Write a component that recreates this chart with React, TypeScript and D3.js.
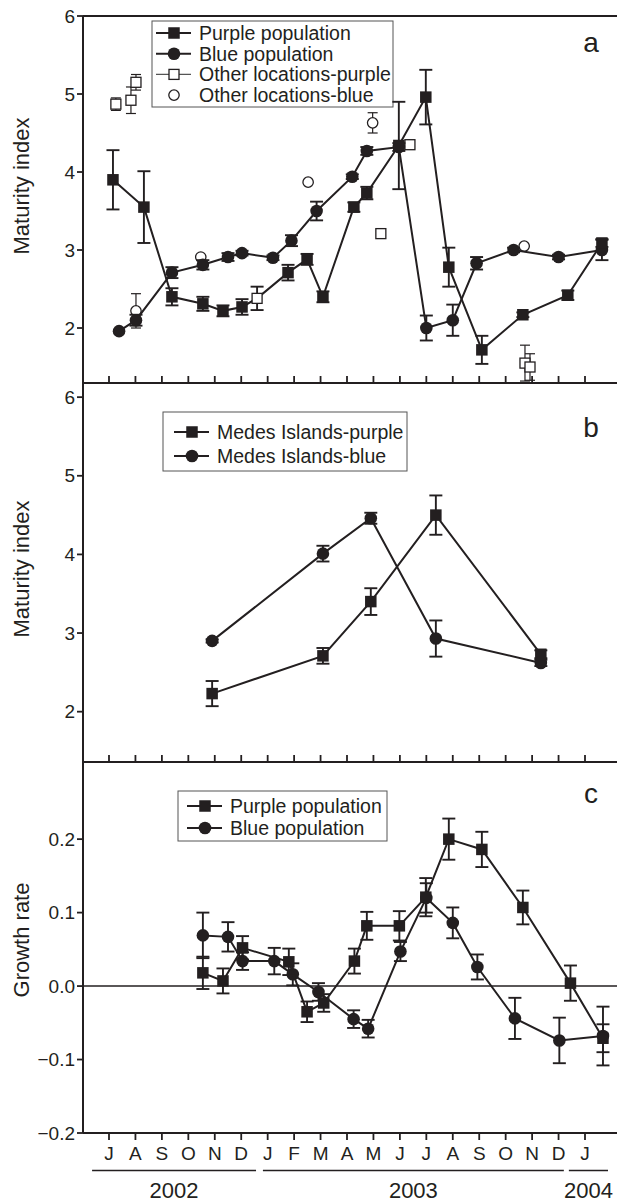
import * as d3 from 'd3';

const INK = '#231f20';
const FONT = '"Liberation Sans", Arial, Helvetica, sans-serif';

// x is a month index: 0 = July 2002 ... 18 = January 2004
const monthLabels = ['J', 'A', 'S', 'O', 'N', 'D', 'J', 'F', 'M', 'A', 'M', 'J', 'J', 'A', 'S', 'O', 'N', 'D', 'J'];
const yearLabels = ['2002', '2003', '2004'];
const yearSpans = [[-0.64, 5.56], [5.82, 17.2], [17.39, 18.87]];

// panel a: [month, maturity index, s.e., open marker (sample from other location)]
const purplePop = [
  [0.15, 3.9, 0.38], [1.32, 3.55, 0.46], [2.38, 2.4, 0.11], [3.55, 2.31, 0.09],
  [4.31, 2.22, 0.07], [5.03, 2.27, 0.1], [5.6, 2.38, 0.15, 1], [6.77, 2.71, 0.1],
  [7.49, 2.88, 0.07], [8.09, 2.4, 0.07], [9.26, 3.55, 0.06], [9.75, 3.73, 0.08],
  [10.96, 4.34, 0.56], [11.98, 4.96, 0.35], [12.85, 2.78, 0.25], [14.1, 1.72, 0.18],
  [15.65, 2.17, 0.03], [17.35, 2.42, 0.06], [18.64, 3.09, 0.05],
];
const bluePop = [
  [0.38, 1.96, 0], [1.02, 2.1, 0.07], [2.38, 2.71, 0.07], [3.55, 2.81, 0.06],
  [4.5, 2.91, 0.05], [5.03, 2.96, 0.03], [6.2, 2.9, 0.03], [6.9, 3.12, 0.07],
  [7.85, 3.5, 0.12], [9.2, 3.94, 0.03], [9.75, 4.27, 0.05], [10.96, 4.32, 0.05],
  [12.0, 2.0, 0.16], [13.0, 2.1, 0.2], [13.9, 2.83, 0.08], [15.3, 3.0, 0.03],
  [17.0, 2.91, 0.03], [18.64, 3.0, 0.13],
];
const otherPurple = [
  [0.26, 4.87, 0.08], [0.83, 4.92, 0.17], [1.02, 5.15, 0.1], [10.28, 3.21, 0],
  [11.38, 4.35, 0.05], [15.73, 1.55, 0.23], [15.92, 1.5, 0.17],
];
const otherBlue = [
  [1.02, 2.22, 0.22], [3.47, 2.91, 0], [7.53, 3.87, 0], [9.97, 4.63, 0.13], [15.7, 3.05, 0],
];

// panel b: Medes Islands
const medesPurple = [
  [3.9, 2.23, 0.16], [8.09, 2.71, 0.1], [9.9, 3.4, 0.17], [12.36, 4.5, 0.25], [16.33, 2.73, 0.05],
];
const medesBlue = [
  [3.9, 2.9, 0.02], [8.09, 4.01, 0.1], [9.9, 4.46, 0.07], [12.36, 2.93, 0.23], [16.33, 2.62, 0.04],
];

// panel c: growth rate
const purpleGrowth = [
  [3.55, 0.018, 0.022], [4.31, 0.007, 0.017], [5.05, 0.052, 0.016], [6.8, 0.033, 0.018],
  [7.49, -0.035, 0.014], [8.12, -0.023, 0.012], [9.28, 0.034, 0.017], [9.75, 0.082, 0.019],
  [10.98, 0.082, 0.02], [11.98, 0.121, 0.026], [12.85, 0.2, 0.028], [14.1, 0.186, 0.024],
  [15.65, 0.107, 0.023], [17.45, 0.004, 0.024], [18.68, -0.071, 0.019],
];
const blueGrowth = [
  [3.55, 0.069, 0.031], [4.5, 0.067, 0.02], [5.05, 0.034, 0.012], [6.25, 0.034, 0.018],
  [6.95, 0.016, 0.015], [7.92, -0.008, 0.012], [9.25, -0.045, 0.012], [9.8, -0.058, 0.012],
  [11.02, 0.047, 0.013], [12.0, 0.12, 0.02], [13.0, 0.086, 0.021], [13.93, 0.026, 0.017],
  [15.35, -0.044, 0.028], [17.03, -0.074, 0.031], [18.68, -0.068, 0.04],
];

const ticksMaturity = [2, 3, 4, 5, 6];
const ticksGrowth = [-0.2, -0.1, 0, 0.1, 0.2];

const LEFT = 83;
const RIGHT = 617;
const x = d3.scaleLinear().domain([0, 18]).range([109, 585]);
const yA = d3.scaleLinear().domain([1.295, 6]).range([383, 16]);
const yB = d3.scaleLinear().domain([1.36, 6.18]).range([762, 383]);
const yC = d3.scaleLinear().domain([-0.2, 0.305]).range([1133, 762]);

const fmtGrowth = (v) => d3.format('.1f')(v).replace('-', '\u2013');

const Marker = ({ cx, cy, shape, open }) => {
  if (shape === 'square') {
    const s = open ? 10 : 11.5;
    return (
      <rect x={cx - s / 2} y={cy - s / 2} width={s} height={s}
        fill={open ? 'white' : INK} stroke={INK} strokeWidth={open ? 1.3 : 0} />
    );
  }
  return (
    <circle cx={cx} cy={cy} r={open ? 5.2 : 6.3}
      fill={open ? 'white' : INK} stroke={INK} strokeWidth={open ? 1.3 : 0} />
  );
};

const ErrorBars = ({ data, y, thin }) => (
  <g stroke={INK} strokeWidth={thin ? 1.2 : 1.9}>
    {data.filter(d => d[2] > 0).map((d, i) => {
      const cx = x(d[0]);
      const t = y(d[1] + d[2]);
      const b = y(d[1] - d[2]);
      const w = thin ? 5 : 6.5;
      return (
        <g key={i}>
          <line x1={cx} x2={cx} y1={t} y2={b} />
          <line x1={cx - w} x2={cx + w} y1={t} y2={t} />
          <line x1={cx - w} x2={cx + w} y1={b} y2={b} />
        </g>
      );
    })}
  </g>
);

const Series = ({ data, y, shape }) => {
  const line = d3.line().x(d => x(d[0])).y(d => y(d[1]));
  return (
    <g>
      <path d={line(data)} fill="none" stroke={INK} strokeWidth={2} />
      <ErrorBars data={data} y={y} />
      {data.map((d, i) => (
        <Marker key={i} cx={x(d[0])} cy={y(d[1])} shape={shape} open={d[3] === 1} />
      ))}
    </g>
  );
};

const Scatter = ({ data, y, shape }) => (
  <g>
    <ErrorBars data={data} y={y} thin />
    {data.map((d, i) => (
      <Marker key={i} cx={x(d[0])} cy={y(d[1])} shape={shape} open />
    ))}
  </g>
);

// box: [left, top, width, height]; first row offset, row step, left padding of the symbol
const Legend = ({ box, first, step, pad, rows }) => {
  const [x0, y0, w, h] = box;
  return (
    <g>
      <rect x={x0} y={y0} width={w} height={h} fill="white" stroke="#555" strokeWidth={1} />
      {rows.map((r, i) => {
        const cy = y0 + first + i * step;
        return (
          <g key={i}>
            {r.line && (
              <line x1={x0 + pad} x2={x0 + pad + 35} y1={cy} y2={cy} stroke={r.open ? '#555' : INK}
                strokeWidth={r.open ? 1.2 : 2} />
            )}
            <Marker cx={x0 + pad + 18} cy={cy} shape={r.shape} open={r.open} />
            <text x={x0 + pad + 43} y={cy} dominantBaseline="central" fontSize={19.5}>{r.label}</text>
          </g>
        );
      })}
    </g>
  );
};

const YAxis = ({ y, ticks, fmt, top, bottom }) => (
  <g>
    <line x1={LEFT} x2={LEFT} y1={top} y2={bottom} stroke={INK} strokeWidth={2} />
    {ticks.map(t => (
      <g key={t}>
        <line x1={LEFT - 6} x2={LEFT} y1={y(t)} y2={y(t)} stroke={INK} strokeWidth={1.8} />
        <text x={LEFT - 8} y={y(t)} textAnchor="end" dominantBaseline="central" fontSize={19}>
          {fmt(t)}
        </text>
      </g>
    ))}
  </g>
);

const MonthTicks = ({ yPos, dir }) => (
  <g stroke={INK} strokeWidth={1.8}>
    {monthLabels.map((m, i) => (
      <line key={i} x1={x(i)} x2={x(i)} y1={yPos} y2={yPos + dir * 7} />
    ))}
  </g>
);

const App = () => {
  const clip = (id, top, bottom) => (
    <clipPath id={id}>
      <rect x={LEFT} y={top} width={RIGHT - LEFT} height={bottom - top} />
    </clipPath>
  );
  return (
    <div style={{ position: 'absolute', left: 0, top: 0 }}>
      <svg width={617} height={1204} fontFamily={FONT} fill={INK} style={{ display: 'block', background: 'white' }}>
        <defs>
          {clip('ca', 16, 383)}
          {clip('cb', 383, 762)}
          {clip('cc', 762, 1133)}
        </defs>

        {/* frame */}
        <g stroke={INK} strokeWidth={2}>
          <line x1={LEFT} x2={RIGHT} y1={16} y2={16} />
          <line x1={LEFT} x2={RIGHT} y1={383} y2={383} />
          <line x1={LEFT} x2={RIGHT} y1={762} y2={762} />
          <line x1={LEFT} x2={RIGHT} y1={1133} y2={1133} />
        </g>
        <MonthTicks yPos={383} dir={-1} />
        <MonthTicks yPos={762} dir={-1} />
        <MonthTicks yPos={1133} dir={1} />
        <YAxis y={yA} ticks={ticksMaturity} fmt={d => d} top={16} bottom={383} />
        <YAxis y={yB} ticks={ticksMaturity} fmt={d => d} top={383} bottom={762} />
        <YAxis y={yC} ticks={ticksGrowth} fmt={fmtGrowth} top={762} bottom={1133} />

        {/* axis titles */}
        <g fontSize={22} textAnchor="middle" dominantBaseline="central">
          <text transform="translate(21,186) rotate(-90)">Maturity index</text>
          <text transform="translate(21,569) rotate(-90)">Maturity index</text>
          <text transform="translate(21,940) rotate(-90)">Growth rate</text>
        </g>

        {/* month and year labels */}
        <g fontSize={19} textAnchor="middle" dominantBaseline="central">
          {monthLabels.map((m, i) => (
            <text key={i} x={x(i)} y={1153}>{m}</text>
          ))}
        </g>
        {yearLabels.map((yl, i) => (
          <g key={yl}>
            <line x1={x(yearSpans[i][0])} x2={x(yearSpans[i][1])} y1={1170.5} y2={1170.5}
              stroke={INK} strokeWidth={1.6} />
            <text x={(x(yearSpans[i][0]) + x(yearSpans[i][1])) / 2} y={1198} textAnchor="middle" fontSize={22}>
              {yl}
            </text>
          </g>
        ))}

        {/* panel a */}
        <Legend box={[152, 21, 241, 86]} first={12} step={20.7} pad={4} rows={[
          { label: 'Purple population', shape: 'square', line: true },
          { label: 'Blue population', shape: 'circle', line: true },
          { label: 'Other locations-purple', shape: 'square', line: true, open: true },
          { label: 'Other locations-blue', shape: 'circle', open: true },
        ]} />
        <g clipPath="url(#ca)">
          <Scatter data={otherPurple} y={yA} shape="square" />
          <Scatter data={otherBlue} y={yA} shape="circle" />
          <Series data={bluePop} y={yA} shape="circle" />
          <Series data={purplePop} y={yA} shape="square" />
        </g>
        <text x={591} y={52} textAnchor="middle" fontSize={28}>a</text>

        {/* panel b */}
        <Legend box={[163, 412, 244, 59]} first={20} step={24} pad={11} rows={[
          { label: 'Medes Islands-purple', shape: 'square', line: true },
          { label: 'Medes Islands-blue', shape: 'circle', line: true },
        ]} />
        <g clipPath="url(#cb)">
          <Series data={medesBlue} y={yB} shape="circle" />
          <Series data={medesPurple} y={yB} shape="square" />
        </g>
        <text x={591} y={437} textAnchor="middle" fontSize={28}>b</text>

        {/* panel c */}
        <line x1={LEFT} x2={RIGHT} y1={yC(0)} y2={yC(0)} stroke={INK} strokeWidth={1.6} />
        <Legend box={[178, 791, 209, 50]} first={15} step={22} pad={9} rows={[
          { label: 'Purple population', shape: 'square', line: true },
          { label: 'Blue population', shape: 'circle', line: true },
        ]} />
        <g clipPath="url(#cc)">
          <Series data={blueGrowth} y={yC} shape="circle" />
          <Series data={purpleGrowth} y={yC} shape="square" />
        </g>
        <text x={591} y={803} textAnchor="middle" fontSize={28}>c</text>
      </svg>
    </div>
  );
};

export default App;
